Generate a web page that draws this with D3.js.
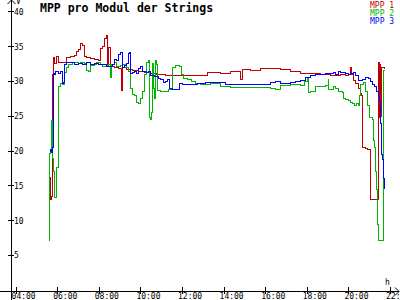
<!DOCTYPE html>
<html>
<head>
<meta charset="utf-8">
<script src="https://cdn.jsdelivr.net/npm/d3@7"></script>
<style>
  html, body { margin: 0; padding: 0; background: #fff; }
  svg { display: block; }
  text { font-family: "DejaVu Sans Mono", "Liberation Mono", monospace; }
</style>
</head>
<body>
<svg id="chart" width="400" height="300"></svg>
<script>
const title = 'MPP pro Modul der Strings';
const seriesNames = ['MPP 1', 'MPP 2', 'MPP 3'];
const seriesColors = ['#c00000', '#00b400', '#0000ff'];
const xTicks = ['04:00', '06:00', '08:00', '10:00', '12:00', '14:00', '16:00', '18:00', '20:00', '22:00'];
const yTicks = [5, 10, 15, 20, 25, 30, 35, 40];

// [time, volts]
const mpp1 = [
	['05:36', 16.2], ['05:39', 13.0], ['05:42', 13.5], ['05:45', 31.0], ['05:48', 33.5], ['05:51', 32.6],
	['05:57', 33.6], ['06:02', 32.7], ['06:14', 32.8], ['06:25', 33.5], ['06:37', 33.6], ['06:48', 33.7],
	['06:54', 34.3], ['07:00', 34.6], ['07:06', 35.4], ['07:12', 35.2], ['07:17', 33.6], ['07:23', 33.4],
	['07:35', 33.3], ['07:46', 33.2], ['07:58', 33.0], ['08:03', 34.7], ['08:09', 35.0], ['08:15', 36.2],
	['08:21', 36.6], ['08:24', 32.5], ['08:27', 34.9], ['08:32', 32.2], ['08:44', 32.0], ['08:55', 31.9],
	['09:04', 28.7], ['09:07', 32.0], ['09:18', 31.7], ['09:36', 31.6], ['09:53', 31.5], ['10:10', 31.3],
	['10:28', 31.1], ['10:45', 31.0], ['11:11', 30.8], ['11:40', 30.9], ['12:09', 30.9], ['12:52', 30.9],
	['13:11', 31.3], ['13:50', 31.2], ['14:19', 31.4], ['14:47', 30.3], ['14:53', 31.7], ['15:16', 31.6],
	['15:45', 31.8], ['16:14', 31.8], ['16:43', 31.7], ['17:12', 31.5], ['17:41', 31.2], ['18:09', 31.1],
	['18:38', 31.0], ['19:07', 30.9], ['19:36', 31.0], ['19:50', 30.9], ['19:59', 31.0], ['20:05', 32.0],
	['20:08', 31.0], ['20:14', 30.2], ['20:19', 29.7], ['20:28', 29.0], ['20:34', 28.3], ['20:37', 28.0],
	['20:39', 20.5], ['20:48', 20.4], ['20:54', 20.3], ['21:02', 13.0], ['21:14', 13.0], ['21:20', 13.0],
	['21:25', 32.8], ['21:27', 24.8], ['21:29', 32.5], ['21:31', 25.0], ['21:34', 32.0], ['21:40', 32.0],
	['21:44', 31.8]
];

const mpp2 = [
	['05:36', 7.2], ['05:37', 19.6], ['05:39', 20.0], ['05:41', 24.4], ['05:44', 19.0], ['05:48', 17.0],
	['05:52', 13.3], ['05:55', 13.3], ['05:57', 17.6], ['06:00', 17.6], ['06:01', 29.3], ['06:08', 29.7],
	['06:14', 29.6], ['06:20', 31.3], ['06:25', 32.0], ['06:31', 32.5], ['06:43', 32.7], ['07:00', 32.6],
	['07:06', 32.7], ['07:17', 32.6], ['07:23', 31.6], ['07:29', 31.5], ['07:35', 32.3], ['07:46', 32.4],
	['07:52', 32.7], ['08:03', 32.5], ['08:09', 32.1], ['08:21', 32.3], ['08:27', 32.5], ['08:32', 30.6],
	['08:35', 32.5], ['08:44', 32.7], ['08:50', 32.2], ['09:01', 32.3], ['09:07', 32.4], ['09:18', 32.0],
	['09:24', 31.5], ['09:30', 29.0], ['09:36', 28.2], ['09:42', 28.0], ['09:47', 27.0], ['09:53', 26.8],
	['09:59', 27.5], ['10:05', 28.5], ['10:10', 31.0], ['10:16', 32.8], ['10:22', 33.0], ['10:25', 24.8],
	['10:28', 24.5], ['10:30', 25.5], ['10:33', 32.6], ['10:36', 29.0], ['10:39', 27.5], ['10:42', 33.0],
	['10:45', 32.5], ['10:48', 28.7], ['10:57', 28.5], ['11:11', 28.6], ['11:20', 28.8], ['11:25', 28.9],
	['11:31', 32.0], ['11:40', 32.3], ['11:51', 32.2], ['11:57', 31.0], ['12:03', 30.4], ['12:14', 30.3],
	['12:26', 30.0], ['12:38', 29.7], ['12:52', 29.6], ['13:21', 29.7], ['13:50', 29.3], ['14:19', 29.2],
	['14:47', 29.1], ['15:16', 29.2], ['15:45', 29.1], ['16:14', 29.0], ['16:28', 28.9], ['16:43', 29.4],
	['17:12', 29.5], ['17:41', 29.4], ['17:53', 30.0], ['18:00', 30.5], ['18:03', 28.4], ['18:09', 28.6],
	['18:24', 29.3], ['18:38', 29.3], ['18:52', 29.4], ['19:00', 30.5], ['19:02', 28.9], ['19:10', 28.9],
	['19:16', 29.3], ['19:22', 29.0], ['19:30', 28.5], ['19:36', 28.6], ['19:42', 28.4], ['19:45', 27.6],
	['19:50', 27.4], ['19:59', 27.3], ['20:05', 27.0], ['20:11', 26.8], ['20:17', 26.6], ['20:22', 26.8],
	['20:28', 26.6], ['20:31', 28.0], ['20:34', 29.5], ['20:42', 29.9], ['20:48', 28.5], ['20:54', 26.5],
	['21:00', 24.8], ['21:08', 24.5], ['21:11', 21.5], ['21:14', 20.5], ['21:17', 17.0], ['21:20', 14.5],
	['21:23', 9.5], ['21:26', 7.2], ['21:37', 7.2], ['21:40', 31.6], ['21:44', 31.6]
];

const mpp3 = [
	['05:36', 20.0], ['05:39', 20.2], ['05:42', 19.8], ['05:45', 20.5], ['05:47', 31.1], ['05:51', 31.0],
	['05:54', 31.5], ['06:02', 31.2], ['06:08', 31.4], ['06:11', 31.5], ['06:14', 29.7], ['06:17', 29.8],
	['06:20', 32.5], ['06:25', 32.8], ['06:37', 32.7], ['06:48', 32.4], ['07:00', 32.6], ['07:12', 32.5],
	['07:23', 32.7], ['07:35', 32.4], ['07:46', 32.6], ['07:58', 32.5], ['08:09', 32.5], ['08:21', 32.2],
	['08:32', 32.1], ['08:38', 32.4], ['08:44', 33.2], ['08:50', 33.0], ['08:55', 33.9], ['09:01', 34.2],
	['09:04', 34.2], ['09:07', 32.0], ['09:13', 32.3], ['09:18', 32.6], ['09:24', 34.0], ['09:27', 34.2],
	['09:30', 31.2], ['09:36', 31.3], ['09:42', 31.4], ['09:47', 31.2], ['09:53', 31.8], ['09:59', 32.2],
	['10:05', 31.5], ['10:10', 31.4], ['10:16', 31.3], ['10:22', 31.5], ['10:28', 30.9], ['10:39', 30.7],
	['10:51', 30.5], ['10:57', 30.3], ['11:05', 29.9], ['11:11', 30.0], ['11:17', 30.3], ['11:22', 29.0],
	['11:31', 28.8], ['11:43', 28.8], ['11:51', 29.7], ['12:00', 29.5], ['12:26', 29.5], ['12:43', 29.7],
	['13:07', 29.8], ['13:35', 29.8], ['14:04', 29.5], ['14:33', 29.6], ['15:02', 29.6], ['15:30', 29.6],
	['15:45', 29.5], ['15:59', 29.6], ['16:14', 29.8], ['16:28', 30.0], ['16:43', 29.7], ['17:12', 29.8],
	['17:26', 30.0], ['17:41', 30.2], ['17:55', 30.6], ['18:09', 30.8], ['18:24', 31.0], ['18:38', 31.0],
	['18:52', 31.2], ['19:07', 31.1], ['19:16', 31.3], ['19:22', 31.0], ['19:30', 31.4], ['19:36', 31.3],
	['19:50', 31.2], ['19:59', 31.0], ['20:05', 31.2], ['20:14', 31.3], ['20:19', 30.8], ['20:28', 30.2],
	['20:34', 30.1], ['20:39', 30.3], ['20:48', 30.6], ['20:57', 30.4], ['21:02', 30.0], ['21:08', 29.5],
	['21:14', 29.3], ['21:20', 28.6], ['21:26', 27.8], ['21:28', 27.3], ['21:31', 24.0], ['21:34', 19.5],
	['21:37', 18.8], ['21:40', 16.0], ['21:44', 14.6]
];

const series = [mpp1, mpp2, mpp3];

function toHours(t) {
	const [h, m] = t.split(':').map(Number);
	return h + m / 60;
}

const svg = d3.select('#chart');

const x = d3.scaleLinear().domain([4, 22]).range([15.6, 390]);
const y = d3.scaleLinear().domain([0, 40]).range([289.8, 11.4]);
const axisY = 291;
const axisX = 11;

// series lines
const line = d3.line()
	.curve(d3.curveStepAfter)
	.x(d => Math.round(x(toHours(d[0]))) + 0.5)
	.y(d => Math.round(y(d[1])) + 0.5);

svg.append('g')
	.selectAll('path')
	.data(series)
	.enter().append('path')
	.attr('d', line)
	.attr('fill', 'none')
	.attr('stroke', (d, i) => seriesColors[i])
	.attr('stroke-width', 1)
	.attr('shape-rendering', 'crispEdges');

// x axis
const xAxis = d3.axisBottom(x)
	.tickValues(xTicks.map(toHours))
	.tickFormat((d, i) => xTicks[i])
	.tickSizeOuter(0)
	.tickSizeInner(3);

const gx = svg.append('g')
	.attr('transform', `translate(0,${axisY})`)
	.call(xAxis);
gx.select('.domain').remove();
gx.selectAll('.tick line')
	.attr('y1', -4)
	.attr('y2', 3)
	.attr('stroke', '#000')
	.attr('shape-rendering', 'crispEdges');
gx.selectAll('.tick text')
	.attr('y', 8)
	.attr('dy', 0)
	.attr('x', -4.5)
	.attr('text-anchor', 'start')
	.attr('font-size', 8)
	.attr('font-family', '"DejaVu Sans Mono", monospace')
	.attr('fill', '#000');

// y axis
const yAxis = d3.axisRight(y)
	.tickValues(yTicks)
	.tickSizeOuter(0)
	.tickSizeInner(3);

const gy = svg.append('g')
	.attr('transform', `translate(${axisX},0)`)
	.call(yAxis);
gy.select('.domain').remove();
gy.selectAll('.tick line')
	.attr('x1', -3)
	.attr('x2', 3)
	.attr('stroke', '#000')
	.attr('shape-rendering', 'crispEdges');
gy.selectAll('.tick text')
	.attr('x', 3)
	.attr('dy', '0.35em')
	.attr('text-anchor', 'start')
	.attr('font-size', 8)
	.attr('font-family', '"DejaVu Sans Mono", monospace')
	.attr('fill', '#000');

// axis lines with arrows
const axes = svg.append('g')
	.attr('stroke', '#000')
	.attr('fill', 'none')
	.attr('shape-rendering', 'crispEdges');
axes.append('line')
	.attr('x1', 0).attr('x2', 399)
	.attr('y1', axisY + 0.5).attr('y2', axisY + 0.5);
axes.append('line')
	.attr('x1', axisX + 0.5).attr('x2', axisX + 0.5)
	.attr('y1', 0).attr('y2', 300);
svg.append('path')
	.attr('d', `M395,${axisY - 3.5}L399,${axisY + 0.5}L395,${axisY + 4.5}`)
	.attr('stroke', '#000').attr('fill', 'none');
svg.append('path')
	.attr('d', `M${axisX - 3.5},4L${axisX + 0.5},0L${axisX + 4.5},4`)
	.attr('stroke', '#000').attr('fill', 'none');

svg.append('text')
	.attr('x', 16).attr('y', 4)
	.attr('font-size', 8)
	.text('V');
svg.append('text')
	.attr('x', 385).attr('y', 284.5)
	.attr('font-size', 8)
	.text('h');

// title
svg.append('text')
	.attr('x', 40).attr('y', 12)
	.attr('font-size', 11.5)
	.attr('font-weight', 'bold')
	.attr('fill', '#000')
	.text(title);

// legend
svg.append('g')
	.selectAll('text')
	.data(seriesNames)
	.enter().append('text')
	.attr('x', 370)
	.attr('y', (d, i) => 7.5 + i * 8)
	.attr('font-size', 8)
	.attr('fill', (d, i) => seriesColors[i])
	.text(d => d);
</script>
</body>
</html>
